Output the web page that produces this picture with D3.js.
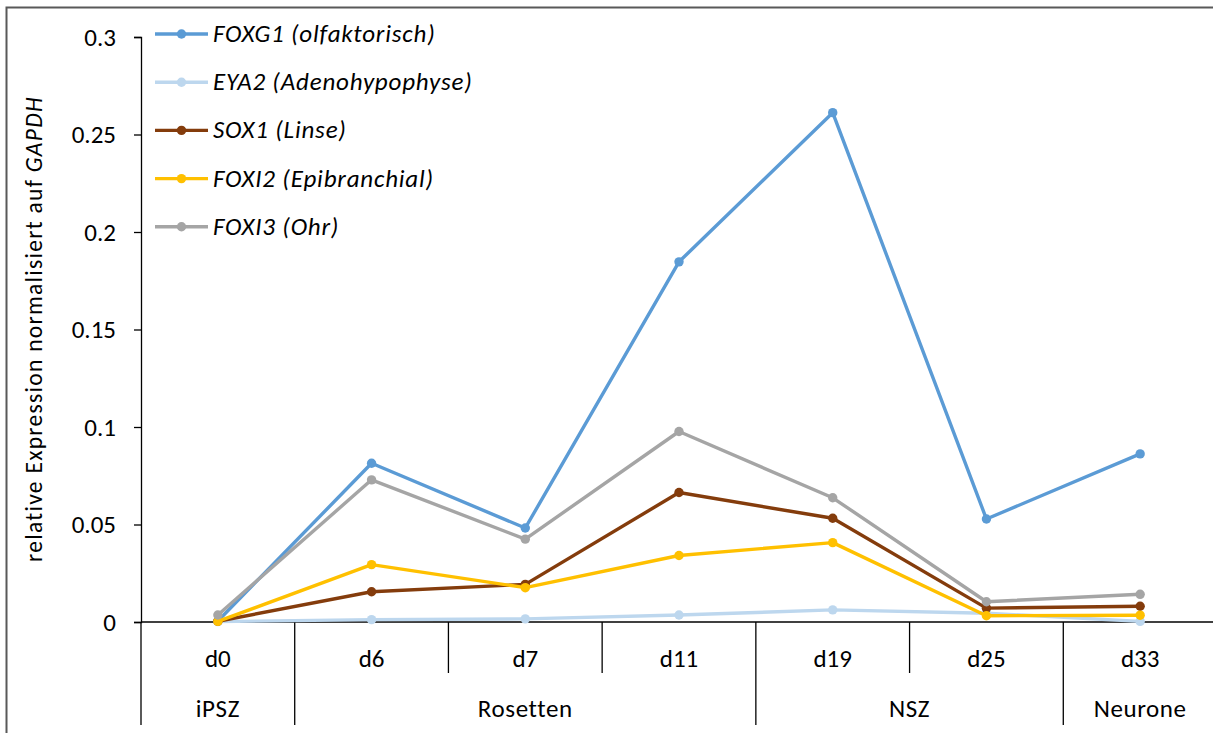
<!DOCTYPE html>
<html>
<head>
<meta charset="utf-8">
<script src="https://cdn.jsdelivr.net/npm/d3@7/dist/d3.min.js"></script>
<style>
  html, body { margin: 0; padding: 0; background: #fff; }
  svg { display: block; font-family: Carlito, Calibri, Lato, sans-serif; }
</style>
</head>
<body>
<svg id="chart" width="1213" height="733"></svg>
<script>
// Time points (days of differentiation) and their stage groups
const days = ["d0", "d6", "d7", "d11", "d19", "d25", "d33"];
const stages = [
  { name: "iPSZ", from: "d0", to: "d0" },
  { name: "Rosetten", from: "d6", to: "d11" },
  { name: "NSZ", from: "d19", to: "d25" },
  { name: "Neurone", from: "d33", to: "d33" }
];

// Relative expression normalised to GAPDH
const foxg1 = [0.0005, 0.0814, 0.0482, 0.1847, 0.2612, 0.0528, 0.0862];
const eya2  = [0.0002, 0.0012, 0.0016, 0.0036, 0.0062, 0.0045, 0.0003];
const sox1  = [0.0004, 0.0155, 0.0193, 0.0664, 0.0532, 0.0071, 0.0081];
const foxi2 = [0.0003, 0.0294, 0.0176, 0.0341, 0.0407, 0.0032, 0.0035];
const foxi3 = [0.0036, 0.0729, 0.0425, 0.0977, 0.0637, 0.0104, 0.0142];

const seriesNames = ["FOXG1 (olfaktorisch)", "EYA2 (Adenohypophyse)", "SOX1 (Linse)",
                     "FOXI2 (Epibranchial)", "FOXI3 (Ohr)"];
const seriesValues = [foxg1, eya2, sox1, foxi2, foxi3];
const seriesColors = ["#5B9BD5", "#BDD7EE", "#843C0C", "#FFC000", "#A5A5A5"];
const yTicks = [0, 0.05, 0.1, 0.15, 0.2, 0.25, 0.3];

const svg = d3.select("#chart");
const FONT = 25;

// outer chart frame
svg.append("rect")
  .attr("x", 6.5).attr("y", 7.5)
  .attr("width", 1240).attr("height", 760)
  .attr("fill", "none").attr("stroke", "#595959").attr("stroke-width", 2);

const x = d3.scaleBand().domain(days).range([141, 1217]).padding(0);
const y = d3.scaleLinear().domain([0, 0.3]).range([622, 37]);

// y axis
const yAxis = d3.axisLeft(y)
  .tickValues(yTicks)
  .tickSize(7)
  .tickPadding(18)
  .tickFormat(d => d3.format("")(+d.toFixed(2)));
const gy = svg.append("g").attr("transform", "translate(141,0)").call(yAxis);
gy.select(".domain").attr("stroke", "#000").attr("stroke-width", 1.3);
gy.selectAll(".tick line").attr("stroke", "#000").attr("stroke-width", 1.3);
gy.selectAll(".tick text")
  .attr("fill", "#000").attr("font-size", FONT)
  .attr("font-family", "Carlito, Calibri, Lato, sans-serif");

// y axis title
const yTitle = svg.append("text")
  .attr("transform", "translate(42,329) rotate(-90)")
  .attr("text-anchor", "middle")
  .attr("font-size", 23.5)
  .attr("letter-spacing", 1.3)
  .attr("fill", "#000");
yTitle.append("tspan").text("relative Expression normalisiert auf ");
yTitle.append("tspan").attr("font-style", "italic").text("GAPDH");

// category axis: baseline and band separators
const axisG = svg.append("g");
axisG.append("line")
  .attr("x1", 141).attr("x2", 1217)
  .attr("y1", y(0)).attr("y2", y(0))
  .attr("stroke", "#000").attr("stroke-width", 1.3);

const stageStarts = new Set(stages.map(s => s.from));
days.forEach(d => {
  const x0 = x(d);
  const full = stageStarts.has(d);
  axisG.append("line")
    .attr("x1", x0).attr("x2", x0)
    .attr("y1", y(0)).attr("y2", full ? 725 : 673)
    .attr("stroke", "#000").attr("stroke-width", 1.3);
});

axisG.selectAll("text.day")
  .data(days)
  .join("text")
  .attr("class", "day")
  .attr("x", d => x(d) + x.bandwidth() / 2)
  .attr("y", 667)
  .attr("text-anchor", "middle")
  .attr("font-size", FONT)
  .attr("fill", "#000")
  .text(d => d);

axisG.selectAll("text.stage")
  .data(stages)
  .join("text")
  .attr("class", "stage")
  .attr("x", s => (x(s.from) + x(s.to) + x.bandwidth()) / 2)
  .attr("y", 717)
  .attr("text-anchor", "middle")
  .attr("font-size", FONT)
  .attr("letter-spacing", 0.6)
  .attr("fill", "#000")
  .text(s => s.name);

// series lines and markers
const line = d3.line()
  .x((v, i) => x(days[i]) + x.bandwidth() / 2)
  .y(v => y(v));

seriesValues.forEach((vals, k) => {
  const g = svg.append("g");
  g.append("path")
    .attr("d", line(vals))
    .attr("fill", "none")
    .attr("stroke", seriesColors[k])
    .attr("stroke-width", 3.4)
    .attr("stroke-linejoin", "round");
  g.selectAll("circle")
    .data(vals)
    .join("circle")
    .attr("cx", (v, i) => x(days[i]) + x.bandwidth() / 2)
    .attr("cy", v => y(v))
    .attr("r", 4.7)
    .attr("fill", seriesColors[k]);
});

// legend
const legend = svg.append("g");
seriesNames.forEach((name, k) => {
  const ly = 34 + k * 48.2;
  legend.append("line")
    .attr("x1", 155).attr("x2", 208)
    .attr("y1", ly).attr("y2", ly)
    .attr("stroke", seriesColors[k]).attr("stroke-width", 3.4);
  legend.append("circle")
    .attr("cx", 181.5).attr("cy", ly).attr("r", 4.7)
    .attr("fill", seriesColors[k]);
  legend.append("text")
    .attr("x", 213).attr("y", ly + 8)
    .attr("font-size", FONT)
    .attr("font-style", "italic")
    .attr("letter-spacing", 0.8)
    .attr("fill", "#000")
    .text(name);
});
</script>
</body>
</html>
